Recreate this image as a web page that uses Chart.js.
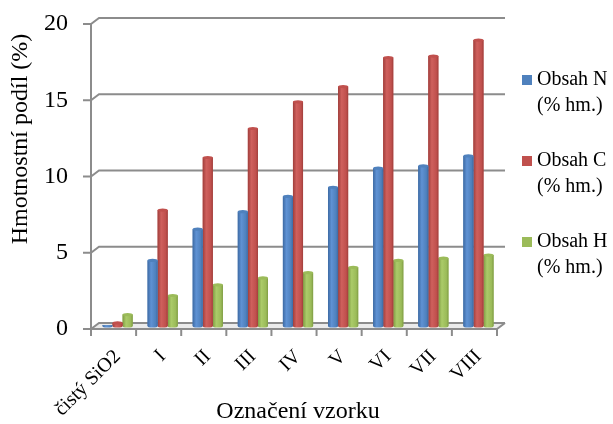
<!DOCTYPE html>
<html>
<head>
<meta charset="utf-8">
<script src="https://cdn.jsdelivr.net/npm/chart.js@4/dist/chart.umd.min.js"></script>
<style>
  html, body { margin: 0; padding: 0; background: #fff; }
  #wrap { width: 613px; height: 424px; }
</style>
</head>
<body>
<div id="wrap"><canvas id="chart" width="613" height="424"></canvas></div>
<script>
const categories = ['čistý SiO2', 'I', 'II', 'III', 'IV', 'V', 'VI', 'VII', 'VIII']
const obsahN = [0.05, 4.3, 6.35, 7.5, 8.5, 9.1, 10.35, 10.5, 11.15]
const obsahC = [0.2, 7.6, 11.05, 12.95, 14.7, 15.7, 17.6, 17.7, 18.75]
const obsahH = [0.75, 2.0, 2.7, 3.15, 3.5, 3.85, 4.3, 4.45, 4.65]
const seriesLabels = [['Obsah N', '(% hm.)'], ['Obsah C', '(% hm.)'], ['Obsah H', '(% hm.)']]
const yTicks = [0, 5, 10, 15, 20]

const FONT = '"Liberation Serif", "Times New Roman", serif'
// half depth of the fake 3D box
const DX = 4
const DY = 3

const palette = [
  { base: '#4f81bd', dark: '#3d6aa3', light: '#5f92d4' },
  { base: '#c0504d', dark: '#a03e3b', light: '#cf605d' },
  { base: '#9bbb59', dark: '#7f9c44', light: '#abcb69' },
]

const frame3d = {
  id: 'frame3d',
  beforeDatasetsDraw(chart) {
    const { ctx, chartArea: a, scales: { x, y } } = chart
    const y0 = y.getPixelForValue(0)
    ctx.save()
    // floor
    ctx.fillStyle = '#ebebeb'
    ctx.beginPath()
    ctx.moveTo(a.left - DX, y0 + DY)
    ctx.lineTo(a.right - DX, y0 + DY)
    ctx.lineTo(a.right + DX, y0 - DY)
    ctx.lineTo(a.left + DX, y0 - DY)
    ctx.closePath()
    ctx.fill()

    ctx.strokeStyle = '#8c8c8c'
    ctx.lineWidth = 2
    // back wall grid lines with the side-wall diagonal
    yTicks.forEach(v => {
      const py = y.getPixelForValue(v)
      ctx.beginPath()
      ctx.moveTo(a.left - DX - 8, py + DY)
      ctx.lineTo(a.left - DX, py + DY)
      ctx.lineTo(a.left + DX, py - DY)
      ctx.lineTo(a.right + DX, py - DY)
      ctx.stroke()
    })
    // left axis
    ctx.beginPath()
    ctx.moveTo(a.left - DX, y.getPixelForValue(20) + DY)
    ctx.lineTo(a.left - DX, y0 + DY)
    ctx.stroke()
    // floor front edge + right diagonal
    ctx.beginPath()
    ctx.moveTo(a.left - DX, y0 + DY)
    ctx.lineTo(a.right - DX, y0 + DY)
    ctx.lineTo(a.right + DX, y0 - DY)
    ctx.stroke()
    // category tick marks
    const n = categories.length
    for (let i = 0; i <= n; i++) {
      const px = a.left + (a.right - a.left) * i / n - DX
      ctx.beginPath()
      ctx.moveTo(px, y0 + DY)
      ctx.lineTo(px, y0 + DY + 7)
      ctx.stroke()
    }
    ctx.restore()
  },
  afterDatasetDraw(chart, args) {
    // shade each bar like a cylinder
    const { ctx } = chart
    const c = palette[args.index]
    ctx.save()
    args.meta.data.forEach(bar => {
      const { x, y, base, width } = bar.getProps(['x', 'y', 'base', 'width'], true)
      const l = x - width / 2
      const r = x + width / 2
      const g = ctx.createLinearGradient(l, 0, r, 0)
      g.addColorStop(0, c.dark)
      g.addColorStop(0.35, c.light)
      g.addColorStop(0.8, c.base)
      g.addColorStop(1, c.dark)
      ctx.fillStyle = g
      ctx.beginPath()
      ctx.moveTo(l, y)
      ctx.lineTo(l, base)
      ctx.ellipse(x, base, width / 2, 1.5, 0, Math.PI, 0, true)
      ctx.lineTo(r, y)
      ctx.closePath()
      ctx.fill()
      if (base - y > 2) {
        ctx.fillStyle = c.base
        ctx.beginPath()
        ctx.ellipse(x, y, width / 2, 1.6, 0, 0, Math.PI * 2)
        ctx.fill()
      }
    })
    ctx.restore()
  },
  afterDraw(chart) {
    const { ctx, data } = chart
    ctx.save()
    ctx.fillStyle = '#000'
    ctx.textBaseline = 'middle'
    // y axis title
    ctx.font = '24px ' + FONT
    ctx.save()
    ctx.translate(21, 139)
    ctx.rotate(-Math.PI / 2)
    ctx.textAlign = 'center'
    ctx.fillText('Hmotnostní podíl (%)', 0, 0)
    ctx.restore()
    // legend
    ctx.font = '20px ' + FONT
    ctx.textAlign = 'left'
    const tops = [80, 161, 242]
    data.datasets.forEach((ds, i) => {
      ctx.fillStyle = palette[i].base
      ctx.fillRect(522, tops[i] - 5, 10, 10)
      ctx.fillStyle = '#000'
      ds.label.forEach((line, k) => ctx.fillText(line, 537, tops[i] + k * 26))
    })
    ctx.restore()
  },
}

new Chart(document.getElementById('chart'), {
  type: 'bar',
  data: {
    labels: categories,
    datasets: [obsahN, obsahC, obsahH].map((values, i) => ({
      label: seriesLabels[i],
      data: values,
      backgroundColor: palette[i].base,
      borderWidth: 0,
      categoryPercentage: 0.67,
      barPercentage: 1.0,
    })),
  },
  options: {
    responsive: false,
    animation: false,
    layout: { padding: { top: 21, right: 112, left: 0, bottom: 0 } },
    plugins: {
      legend: { display: false },
      tooltip: { enabled: false },
    },
    scales: {
      x: {
        // tick marks are drawn by the plugin; tickLength only spaces the labels
        grid: { display: false, drawTicks: true, tickLength: 19 },
        border: { display: false },
        ticks: {
          color: '#000',
          font: { family: FONT, size: 20 },
          minRotation: 45,
          maxRotation: 45,
          padding: 0,
          labelOffset: 0,
        },
        title: {
          display: true,
          text: 'Označení vzorku',
          color: '#000',
          font: { family: FONT, size: 24, lineHeight: 1 },
          padding: 0,
        },
        afterFit(scale) { scale.height = 98 },
      },
      y: {
        min: 0,
        max: 20,
        grid: { display: false, drawTicks: true, tickLength: 27 },
        border: { display: false },
        ticks: {
          stepSize: 5,
          color: '#000',
          font: { family: FONT, size: 24 },
          padding: 0,
          labelOffset: DY,
        },
        afterFit(scale) { scale.width = 95 },
      },
    },
  },
  plugins: [frame3d],
})
</script>
</body>
</html>
